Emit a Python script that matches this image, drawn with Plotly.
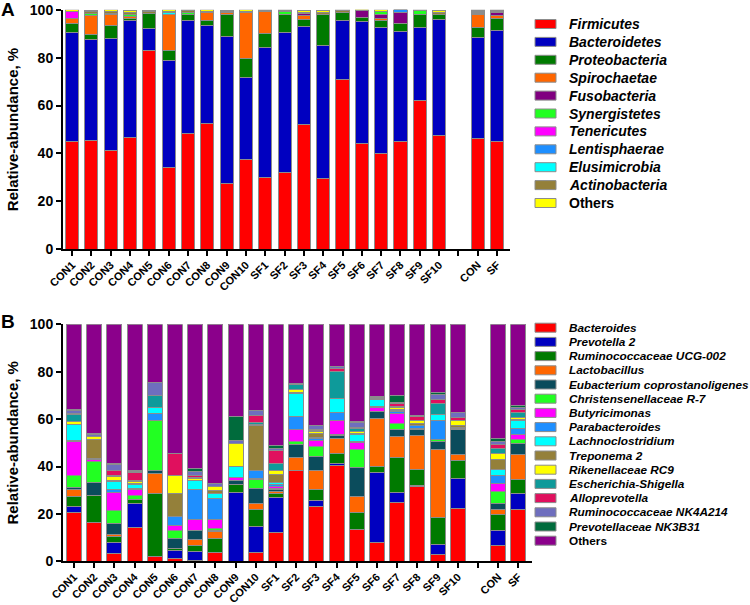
import plotly.graph_objects as go

# ---------------- data ----------------
samples = ["CON1", "CON2", "CON3", "CON4", "CON5", "CON6", "CON7", "CON8", "CON9", "CON10",
           "SF1", "SF2", "SF3", "SF4", "SF5", "SF6", "SF7", "SF8", "SF9", "SF10", "CON", "SF"]
axis_categories = samples[:20] + [" "] + samples[20:]

phyla = ["Firmicutes", "Bacteroidetes", "Proteobacteria", "Spirochaetae", "Fusobacteria",
         "Synergistetes", "Tenericutes", "Lentisphaerae", "Elusimicrobia", "Actinobacteria", "Others"]
firmicutes = [45.2, 45.5, 41.4, 46.7, 82.9, 34.1, 48.4, 52.3, 27.5, 37.6, 30.0, 32.0, 51.9, 29.6, 70.7, 44.2, 39.8, 45.1, 62.0, 47.7, 46.3, 45.2]
bacteroidetes = [45.2, 41.9, 46.4, 48.7, 9.2, 44.9, 47.3, 40.9, 61.2, 34.0, 54.1, 58.6, 41.0, 55.4, 24.7, 50.8, 52.6, 45.7, 30.7, 48.4, 42.0, 46.3]
proteobacteria = [3.9, 2.3, 5.4, 1.0, 6.3, 3.9, 2.5, 2.2, 9.1, 8.1, 6.0, 7.6, 3.2, 13.2, 3.5, 1.8, 3.0, 3.5, 5.5, 1.7, 4.2, 4.9]
spirochaetae = [2.0, 7.8, 4.6, 0.8, 0, 14.9, 0, 3.3, 1.0, 19.2, 9.1, 0, 1.4, 0, 0, 0, 1.0, 0, 0, 0, 5.7, 1.2]
fusobacteria = [0, 0, 0.5, 0, 0, 0, 0, 0, 0, 0, 0, 0, 0.8, 0, 0, 2.8, 1.5, 4.5, 0, 0, 0.3, 1.1]
synergistetes = [0, 0.8, 0, 0.8, 0, 0, 0.8, 0, 0, 0, 0, 1.2, 0, 0, 0, 0, 1.2, 0, 1.4, 0, 0.2, 0.3]
tenericutes = [3.0, 0, 0, 0, 0, 0, 0, 0, 0, 0, 0, 0, 0, 0, 0, 0, 0, 0, 0, 0, 0.3, 0]
lentisphaerae = [0, 0, 0, 0, 0, 0.3, 0, 0, 0, 0, 0, 0, 0, 0, 0, 0, 0, 1.2, 0, 0, 0, 0.1]
elusimicrobia = [0, 0, 0, 0, 0, 0.8, 0, 0, 0, 0, 0, 0, 0, 0, 0, 0, 0, 0, 0, 0, 0.1, 0]
actinobacteria = [0, 1.0, 1.0, 1.0, 0.8, 0.5, 0.5, 0.5, 0.5, 0.5, 0.5, 0.3, 0.7, 0.8, 0.6, 0.2, 0, 0, 0.2, 1.0, 0.5, 0.5]
others_a = [0.7, 0.5, 0.7, 0.5, 0.5, 0.5, 0.5, 0.8, 0.5, 0.5, 0.3, 0.3, 0.5, 0.5, 0.5, 0.4, 0.9, 0, 0.2, 0.7, 0.4, 0.4]
phylum_values = [firmicutes, bacteroidetes, proteobacteria, spirochaetae, fusobacteria, synergistetes,
                 tenericutes, lentisphaerae, elusimicrobia, actinobacteria, others_a]
phylum_colors = ["#FF0000", "#0000C0", "#007A00", "#FF6600", "#800080", "#22FF22",
                 "#FF00FF", "#1E8FFF", "#00FFFF", "#94803A", "#FFFF00"]

genera = ["Bacteroides", "Prevotella 2", "Ruminococcaceae UCG-002", "Lactobacillus",
          "Eubacterium coprostanoligenes", "Christensenellaceae R-7", "Butyricimonas",
          "Parabacteroides", "Lachnoclostridium", "Treponema 2", "Rikenellaceae RC9",
          "Escherichia-Shigella", "Alloprevotella", "Ruminococcaceae NK4A214",
          "Prevotellaceae NK3B31", "Others"]
bacteroides = [20.5, 16.3, 3.4, 14.3, 2.0, 1.0, 0.5, 3.7, 0, 3.7, 12.0, 38.3, 23.3, 40.6, 13.5, 7.9, 24.8, 31.5, 3.0, 22.4, 6.5, 21.9]
prevotella2 = [2.6, 0, 4.5, 10.2, 0, 3.5, 3.6, 0, 29.0, 10.9, 14.8, 0, 2.3, 0.7, 0, 29.5, 4.2, 0.5, 3.9, 12.6, 6.4, 6.8]
rumino_ucg002 = [4.2, 11.3, 2.5, 1.4, 26.4, 1.0, 2.4, 6.0, 3.2, 7.3, 1.7, 0, 4.5, 4.3, 7.0, 2.5, 14.9, 6.8, 11.7, 7.5, 6.7, 5.9]
lactobacillus = [2.8, 0, 0.7, 0, 8.7, 0, 2.8, 2.8, 0, 2.6, 1.1, 5.6, 8.4, 6.3, 6.8, 20.4, 8.7, 14.1, 28.4, 2.4, 2.3, 10.3]
eubacterium = [1.0, 5.6, 4.9, 0.3, 1.4, 4.2, 3.6, 0.7, 1.7, 6.3, 0.8, 5.2, 5.7, 1.1, 12.4, 2.9, 2.8, 2.8, 3.5, 10.7, 2.6, 4.6]
christensenellaceae = [5.3, 8.9, 5.4, 1.4, 21.1, 3.5, 0, 0.7, 0, 3.8, 0.5, 1.4, 4.2, 0.5, 7.6, 0, 2.8, 0, 0.8, 0, 4.9, 2.0]
butyricimonas = [14.1, 0.8, 7.6, 2.8, 0, 1.7, 4.8, 3.8, 1.5, 0.5, 0.8, 5.2, 2.5, 5.9, 2.8, 1.8, 4.0, 0.5, 0.3, 0.5, 3.5, 2.2]
parabacteroides = [0.5, 0.4, 1.1, 0.3, 2.8, 3.9, 12.4, 8.9, 0, 3.4, 0.8, 5.3, 0.8, 3.3, 0.6, 0.4, 1.0, 1.0, 7.6, 0.5, 3.5, 2.4]
lachnoclostridium = [6.6, 0, 3.5, 1.8, 2.6, 0, 3.9, 1.8, 4.5, 0, 0.8, 9.9, 0.7, 5.9, 2.8, 2.7, 0.5, 0.3, 2.8, 0, 2.4, 3.2]
treponema2 = [0, 8.0, 0.5, 0.5, 0, 9.6, 0.3, 1.4, 0, 18.6, 3.5, 0.3, 1.5, 0, 0.5, 0.6, 0.3, 0.5, 0, 0.8, 4.2, 0.4]
rikenellaceae = [1.4, 1.4, 1.5, 0.8, 0, 8.0, 0.7, 1.7, 9.9, 0.5, 1.6, 1.4, 0.8, 0, 0.8, 0.5, 1.0, 1.2, 0, 1.8, 2.6, 1.0]
escherichia = [3.1, 0, 0.8, 0.3, 4.8, 0, 0.3, 0, 0, 0.9, 3.0, 2.2, 0.5, 11.4, 1.1, 0.5, 0.3, 0.3, 4.7, 0, 2.0, 2.2]
alloprevotella = [0.3, 0, 1.7, 3.2, 0, 8.9, 1.1, 0, 0, 3.2, 5.5, 0, 0.3, 1.4, 0.5, 0, 1.2, 1.6, 1.5, 1.3, 1.8, 1.2]
rumino_nk4a214 = [1.4, 1.0, 2.8, 0.6, 5.7, 0.3, 1.4, 1.4, 1.1, 1.8, 0.5, 0.3, 1.6, 1.0, 2.2, 0, 0.5, 0.6, 2.0, 2.4, 1.3, 1.0]
prevotellaceae_nk3b31 = [0.2, 0.3, 0.5, 0.6, 0, 0, 1.4, 0, 10.4, 0, 1.5, 0, 0, 0, 0.5, 0, 2.8, 0, 1.2, 0, 1.0, 0.6]
others_b = [36.0, 46.0, 58.6, 61.5, 24.5, 54.4, 60.8, 67.1, 38.7, 36.5, 51.1, 24.9, 42.9, 17.6, 40.9, 30.3, 30.2, 38.3, 28.6, 37.1, 48.3, 34.3]
genus_values = [bacteroides, prevotella2, rumino_ucg002, lactobacillus, eubacterium, christensenellaceae,
                butyricimonas, parabacteroides, lachnoclostridium, treponema2, rikenellaceae, escherichia,
                alloprevotella, rumino_nk4a214, prevotellaceae_nk3b31, others_b]
genus_colors = ["#FF0000", "#0000C0", "#007A00", "#FF6600", "#0B4C5C", "#22FF22", "#FF00FF", "#1E8FFF",
                "#00FFFF", "#94803A", "#FFFF00", "#0E9A9A", "#E0105E", "#6E6EBE", "#006B3C", "#8B008B"]

y_ticks = [0, 20, 40, 60, 80, 100]

# ---------------- figure ----------------
W, H = 750, 605
FONT = "Liberation Sans, Arial, sans-serif"
fig = go.Figure()
LINE = dict(color="#8C8C8C", width=1)

for name, vals, col in zip(phyla, phylum_values, phylum_colors):
    fig.add_trace(go.Bar(x=samples, y=vals, name=name, marker=dict(color=col, line=LINE),
                         width=0.68, xaxis="x", yaxis="y", showlegend=False))
for name, vals, col in zip(genera, genus_values, genus_colors):
    fig.add_trace(go.Bar(x=samples, y=vals, name=name, marker=dict(color=col, line=LINE),
                         width=0.74, xaxis="x2", yaxis="y2", showlegend=False))

def px_x(p):
    return p / W

def px_y(p):
    return 1 - p / H

common_y = dict(range=[0, 100], tickvals=y_ticks, showline=True, linewidth=2, linecolor="black",
                ticks="outside", ticklen=5, tickwidth=2, tickcolor="black", showgrid=False,
                zeroline=False, automargin=False,
                tickfont=dict(family=FONT, size=14, color="black", weight="bold"),
                title=dict(text="Relative-abundance, %", standoff=8,
                           font=dict(family=FONT, size=15, color="black", weight="bold")))
common_x = dict(type="category", categoryorder="array", categoryarray=axis_categories,
                showline=True, linewidth=2, linecolor="black", ticks="outside", ticklen=5,
                tickwidth=1.5, tickcolor="black", showgrid=False, zeroline=False, tickangle=-45,
                automargin=False, ticklabelstandoff=-2,
                tickfont=dict(family=FONT, size=11, color="black", weight="bold"))

fig.update_layout(
    template="none",
    width=W, height=H, margin=dict(l=0, r=0, t=0, b=0, pad=0), autosize=False,
    paper_bgcolor="white", plot_bgcolor="white", barmode="stack",
    font=dict(family=FONT, color="black"),
    xaxis=dict(domain=[px_x(63), px_x(510)], range=[-0.47, 22.67], anchor="y", **common_x),
    yaxis=dict(domain=[px_y(249.3), px_y(9.7)], anchor="x", **common_y),
    xaxis2=dict(domain=[px_x(63), px_x(532)], range=[-0.54, 22.67], anchor="y2", **common_x),
    yaxis2=dict(domain=[px_y(561.3), px_y(324.3)], anchor="x2", **common_y),
)

shapes = []
annotations = []

def add_legend(names, colors, x0, y0, step, fsize):
    for i, (n, c) in enumerate(zip(names, colors)):
        yc = y0 + i * step
        shapes.append(dict(type="rect", xref="paper", yref="paper",
                           x0=px_x(x0), x1=px_x(x0 + 21), y0=px_y(yc + 4.5), y1=px_y(yc - 4.5),
                           fillcolor=c, line=dict(color="#8C8C8C", width=1)))
        label = n if n == "Others" else "<i>" + n + "</i>"
        annotations.append(dict(xref="paper", yref="paper", x=px_x(x0 + 32), y=px_y(yc),
                                xanchor="left", yanchor="middle", text=label, showarrow=False,
                                font=dict(family=FONT, size=fsize, color="black", weight="bold")))

add_legend(phyla, phylum_colors, 535, 24, 17.9, 14)
add_legend(genera, genus_colors, 535, 327.7, 14.2, 11.8)

annotations.append(dict(xref="paper", yref="paper", x=px_x(8), y=px_y(10), xanchor="center",
                        yanchor="middle", text="A", showarrow=False,
                        font=dict(family=FONT, size=19, color="black", weight="bold")))
annotations.append(dict(xref="paper", yref="paper", x=px_x(8), y=px_y(321), xanchor="center",
                        yanchor="middle", text="B", showarrow=False,
                        font=dict(family=FONT, size=19, color="black", weight="bold")))

fig.update_layout(shapes=shapes, annotations=annotations)
# remove the browser's default 8px page margin so the figure sits at the window origin
fig.write_html("out.html", config={"displayModeBar": False},
               post_script="document.body.style.margin='0px';document.body.style.padding='0px';"
                           "document.body.style.overflow='hidden';")
